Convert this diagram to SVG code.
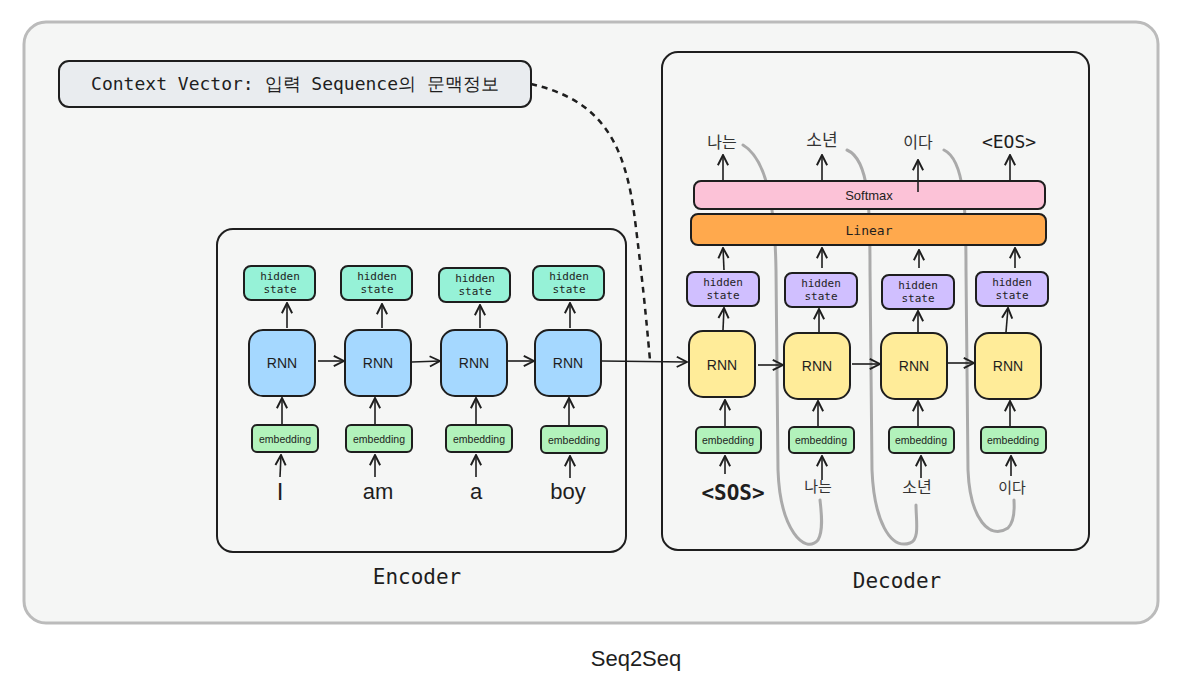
<svg xmlns="http://www.w3.org/2000/svg" width="1193" height="686" viewBox="0 0 1193 686">
<defs>
<marker id="ah" viewBox="0 0 10 10" refX="9" refY="5" markerWidth="8" markerHeight="8" orient="auto-start-reverse"><path d="M1,1 L9,5 L1,9" fill="none" stroke="#1e1e1e" stroke-width="1.5"/></marker>
</defs>
<style>
.b{stroke:#1e1e1e;stroke-width:2}
.hs{fill:#96f2d7}.hp{fill:#d0bfff}.rb{fill:#a5d8ff}.ry{fill:#ffec99}.em{fill:#b2f2bb}
.m{font-family:"DejaVu Sans Mono","Liberation Mono",monospace;fill:#1e1e1e;text-anchor:middle}
.s{font-family:"Liberation Sans",Arial,sans-serif;fill:#1e1e1e;text-anchor:middle}
.k{font-family:"Liberation Sans","Noto Sans CJK KR",sans-serif;fill:#333;text-anchor:middle}
.a{stroke:#1e1e1e;stroke-width:1.6;fill:none;marker-end:url(#ah)}
.g{stroke:#aaa;stroke-width:3;fill:none;stroke-linecap:round}
</style>
<rect width="1193" height="686" fill="#fff"/>
<rect x="24" y="22" width="1134" height="601" rx="22" fill="#f5f6f5" stroke="#bbb" stroke-width="3"/>
<text x="636" y="666" class="s" font-size="22">Seq2Seq</text>
<g id="context"><rect x="59" y="61" width="472" height="46" rx="10" fill="#e9ecef" class="b"/>
<text x="295" y="90" class="m" font-size="18" font-family="DejaVu Sans Mono,Noto Sans CJK KR,monospace">Context Vector: 입력 Sequence의 문맥정보</text></g>
<g id="encoder"><rect x="217" y="229" width="409" height="323" rx="16" fill="none" class="b" stroke-width="1.4"/>
<text x="417" y="584" class="m" font-size="21">Encoder</text></g>
<g id="decoder"><rect x="662" y="52" width="427" height="498" rx="16" fill="none" class="b" stroke-width="1.4"/>
<text x="897" y="588" class="m" font-size="21">Decoder</text></g>
<g id="gray">
<path class="g" d="M743,145 C768,160 775,210 776,270 L778,470 C780,530 805,555 818,540 C824,530 821,510 820,500"/>
<path class="g" d="M847,150 C870,160 870,210 870,270 L872,470 C874,520 890,550 910,543 C920,540 916,520 916,505"/>
<path class="g" d="M944,150 C965,160 966,210 966,270 L968,470 C970,520 990,540 1008,528 C1016,520 1014,505 1014,500"/>
</g>
<g id="enc-nodes">
<rect x="244" y="266" width="71" height="34" rx="7" class="b hs"/><text x="280" y="280" class="m" font-size="11">hidden</text><text x="280" y="293" class="m" font-size="11">state</text>
<rect x="341" y="266" width="71" height="34" rx="7" class="b hs"/><text x="377" y="280" class="m" font-size="11">hidden</text><text x="377" y="293" class="m" font-size="11">state</text>
<rect x="439" y="268" width="71" height="34" rx="7" class="b hs"/><text x="475" y="282" class="m" font-size="11">hidden</text><text x="475" y="295" class="m" font-size="11">state</text>
<rect x="533" y="266" width="71" height="34" rx="7" class="b hs"/><text x="569" y="280" class="m" font-size="11">hidden</text><text x="569" y="293" class="m" font-size="11">state</text>
<rect x="249" y="330" width="66" height="66" rx="14" class="b rb"/><text x="282" y="368" class="s" font-size="14">RNN</text>
<rect x="345" y="330" width="66" height="66" rx="14" class="b rb"/><text x="378" y="368" class="s" font-size="14">RNN</text>
<rect x="441" y="330" width="66" height="66" rx="14" class="b rb"/><text x="474" y="368" class="s" font-size="14">RNN</text>
<rect x="535" y="330" width="66" height="66" rx="14" class="b rb"/><text x="568" y="368" class="s" font-size="14">RNN</text>
<rect x="252" y="425" width="66" height="27" rx="5" class="b em"/><text x="285" y="443" class="s" font-size="10.5">embedding</text>
<rect x="346" y="425" width="66" height="27" rx="5" class="b em"/><text x="379" y="443" class="s" font-size="10.5">embedding</text>
<rect x="446" y="425" width="66" height="27" rx="5" class="b em"/><text x="479" y="443" class="s" font-size="10.5">embedding</text>
<rect x="541" y="426" width="66" height="27" rx="5" class="b em"/><text x="574" y="444" class="s" font-size="10.5">embedding</text>
<text x="280" y="500" class="s" font-size="24">I</text>
<text x="378" y="499" class="s" font-size="22">am</text>
<text x="476" y="499" class="s" font-size="22">a</text>
<text x="568" y="499" class="s" font-size="22">boy</text>
</g>
<g id="dec-nodes">
<rect x="694" y="181" width="351" height="28" rx="7" fill="#fcc2d7" class="b"/><text x="869" y="200" class="s" font-size="13">Softmax</text>
<rect x="691" y="214" width="355" height="31" rx="7" fill="#ffa94d" class="b"/><text x="869" y="235" class="m" font-size="13">Linear</text>
<rect x="687" y="272" width="72" height="34" rx="7" class="b hp"/><text x="723" y="286" class="m" font-size="11">hidden</text><text x="723" y="299" class="m" font-size="11">state</text>
<rect x="785" y="273" width="72" height="34" rx="7" class="b hp"/><text x="821" y="287" class="m" font-size="11">hidden</text><text x="821" y="300" class="m" font-size="11">state</text>
<rect x="882" y="275" width="72" height="34" rx="7" class="b hp"/><text x="918" y="289" class="m" font-size="11">hidden</text><text x="918" y="302" class="m" font-size="11">state</text>
<rect x="976" y="272" width="72" height="34" rx="7" class="b hp"/><text x="1012" y="286" class="m" font-size="11">hidden</text><text x="1012" y="299" class="m" font-size="11">state</text>
<rect x="689" y="331" width="66" height="66" rx="14" class="b ry"/><text x="722" y="370" class="s" font-size="14">RNN</text>
<rect x="784" y="333" width="66" height="66" rx="14" class="b ry"/><text x="817" y="371" class="s" font-size="14">RNN</text>
<rect x="881" y="333" width="66" height="66" rx="14" class="b ry"/><text x="914" y="371" class="s" font-size="14">RNN</text>
<rect x="975" y="333" width="66" height="66" rx="14" class="b ry"/><text x="1008" y="371" class="s" font-size="14">RNN</text>
<rect x="696" y="427" width="65" height="26" rx="5" class="b em"/><text x="728" y="444" class="s" font-size="10.5">embedding</text>
<rect x="789" y="427" width="65" height="26" rx="5" class="b em"/><text x="821" y="444" class="s" font-size="10.5">embedding</text>
<rect x="889" y="427" width="65" height="26" rx="5" class="b em"/><text x="921" y="444" class="s" font-size="10.5">embedding</text>
<rect x="981" y="427" width="65" height="26" rx="5" class="b em"/><text x="1013" y="444" class="s" font-size="10.5">embedding</text>
<text x="733" y="500" class="m" font-size="21" font-weight="bold">&lt;SOS&gt;</text>
<text x="818" y="492" class="k" font-size="15">나는</text>
<text x="917" y="493" class="k" font-size="16">소년</text>
<text x="1012" y="493" class="k" font-size="15">이다</text>
<text x="722" y="148" class="k" font-size="16">나는</text>
<text x="822" y="146" class="k" font-size="17">소년</text>
<text x="918" y="148" class="k" font-size="16">이다</text>
<text x="1009" y="148" class="m" font-size="18">&lt;EOS&gt;</text>
</g>
<g id="connectors">
<path d="M531,84 C600,100 625,140 635,220 C645,300 648,340 650,360" stroke="#1e1e1e" stroke-width="2.5" fill="none" stroke-dasharray="6,5"/>
<path class="a" d="M280,477 L281,455"/><path class="a" d="M375,477 L375,455"/><path class="a" d="M476,477 L476,455"/><path class="a" d="M570,478 L570,456"/>
<path class="a" d="M282,424 L282,398"/><path class="a" d="M375,424 L375,398"/><path class="a" d="M476,424 L476,398"/><path class="a" d="M569,425 L569,398"/>
<path class="a" d="M287,328 L287,303"/><path class="a" d="M382,328 L382,304"/><path class="a" d="M480,328 L480,305"/><path class="a" d="M570,328 L570,303"/>
<path class="a" d="M318,361 L344,361"/><path class="a" d="M412,362 L440,361"/><path class="a" d="M508,361 L534,361"/>
<path class="a" d="M602,361 L687,362"/>
<path class="a" d="M758,365 L783,365"/><path class="a" d="M852,364 L880,364"/><path class="a" d="M948,363 L974,363"/>
<path class="a" d="M725,474 L725,456"/><path class="a" d="M822,480 L822,456"/><path class="a" d="M921,478 L921,456"/><path class="a" d="M1011,476 L1011,456"/>
<path class="a" d="M725,426 L725,400"/><path class="a" d="M818,426 L818,401"/><path class="a" d="M918,426 L918,401"/><path class="a" d="M1010,426 L1010,401"/>
<path class="a" d="M723,330 L724,308"/><path class="a" d="M819,332 L819,309"/><path class="a" d="M918,332 L918,311"/><path class="a" d="M1006,332 L1008,308"/>
<path class="a" d="M724,270 L723,248"/><path class="a" d="M822,268 L822,248"/><path class="a" d="M919,268 L919,250"/><path class="a" d="M1015,268 L1015,248"/>
<path class="a" d="M723,180 L723,155"/><path class="a" d="M822,180 L822,155"/><path class="a" d="M918,192 L918,160"/><path class="a" d="M1010,180 L1010,155"/>
</g>
</svg>
